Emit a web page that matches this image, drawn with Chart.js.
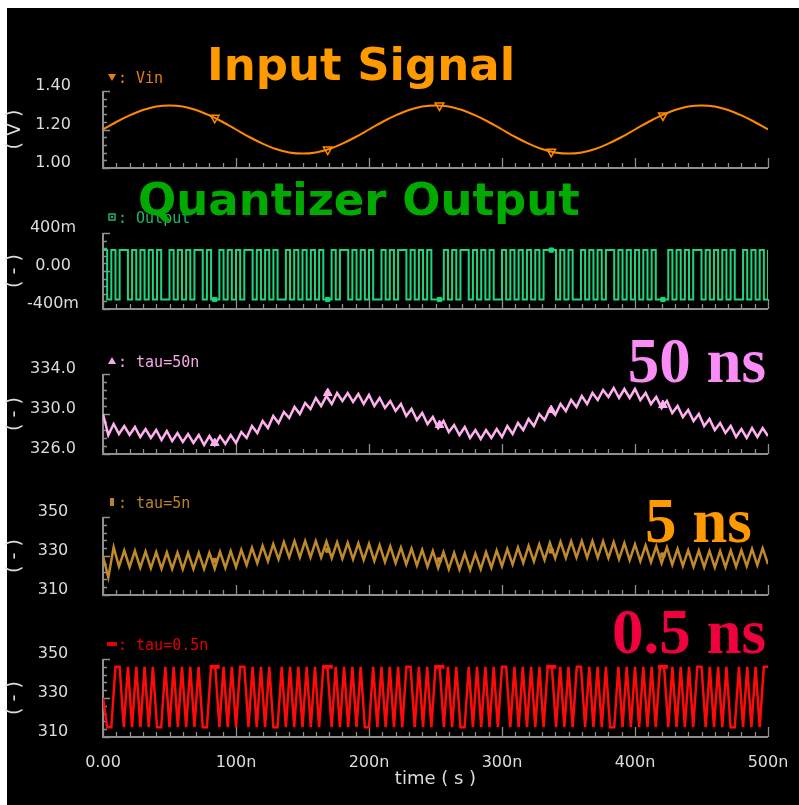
<!DOCTYPE html>
<html><head><meta charset="utf-8">
<script src="https://cdn.jsdelivr.net/npm/chart.js"></script>
<style>
html,body{margin:0;padding:0;background:#fff;width:799px;height:805px;overflow:hidden}
#bg{position:absolute;left:7px;top:8px;width:792px;height:797px;background:#000}
canvas{position:absolute;left:0;top:0}
</style></head><body>
<div id="bg"></div>
<canvas id="c1" width="799" height="805"></canvas>
<canvas id="c2" width="799" height="805"></canvas>
<canvas id="c3" width="799" height="805"></canvas>
<canvas id="c4" width="799" height="805"></canvas>
<canvas id="c5" width="799" height="805"></canvas>
<script>
// ---------------- DATA ----------------
const xTickValues = [0, 100, 200, 300, 400, 500];
const xTickLabels = ['0.00', '100n', '200n', '300n', '400n', '500n'];
const xAxisTitle = 'time ( s )';

// Vin, sampled every 10 ns
const vinStepNs = 10;
const vinValues = [
 1.200,1.239,1.273,1.301,1.319,1.325,1.319,1.301,1.273,1.239,
 1.200,1.161,1.127,1.099,1.081,1.075,1.081,1.099,1.127,1.161,
 1.200,1.239,1.273,1.301,1.319,1.325,1.319,1.301,1.273,1.239,
 1.200,1.161,1.127,1.099,1.081,1.075,1.081,1.099,1.127,1.161,
 1.200,1.239,1.273,1.301,1.319,1.325,1.319,1.301,1.273,1.239,
 1.200];

// quantizer output and tau=0.5n, sampled every 3.125 ns
const fastStepNs = 3.125;
const OH = 0.22, OL = -0.30;
const outputValues = [
 OH,OL,OH,OL,OH,OH,OL,OH,OL,OH,
 OL,OH,OL,OH,OL,OL,OH,OL,OH,OL,
 OH,OL,OH,OH,OL,OH,OL,OL,OH,OL,
 OH,OL,OH,OL,OH,OH,OL,OH,OL,OH,
 OL,OH,OL,OL,OH,OL,OH,OL,OH,OL,
 OH,OL,OH,OL,OL,OH,OL,OH,OH,OL,
 OH,OL,OH,OL,OH,OL,OL,OH,OL,OH,
 OL,OH,OH,OL,OH,OL,OH,OL,OH,OL,
 OL,OL,OH,OL,OH,OL,OH,OH,OL,OH,
 OL,OH,OL,OH,OL,OL,OH,OL,OH,OL,
 OH,OL,OH,OL,OH,OL,OH,OH,OH,OL,
 OH,OL,OH,OL,OL,OH,OL,OH,OL,OH,
 OL,OH,OH,OL,OH,OL,OH,OL,OH,OL,
 OH,OL,OH,OL,OL,OL,OH,OL,OH,OL,
 OH,OL,OH,OH,OL,OH,OL,OH,OL,OH,
 OL,OH,OL,OL,OH,OL,OH,OL,OH,OL,
 OH];

const RH = 346, RL = 315;
const tau05Values = [
 330,RL,RL,RH,RH,RL,RH,RL,RH,RL,
 RH,RL,RH,RL,RL,RH,RL,RH,RL,RH,
 RL,RH,RL,RH,RL,RL,RH,RH,RL,RH,
 RL,RH,RL,RH,RH,RL,RH,RL,RH,RL,
 RH,RL,RL,RH,RL,RH,RL,RH,RL,RH,
 RL,RH,RL,RH,RH,RL,RH,RL,RH,RL,
 RH,RL,RH,RL,RL,RH,RL,RH,RL,RH,
 RL,RH,RL,RH,RH,RL,RH,RL,RH,RL,
 RH,RH,RL,RH,RL,RH,RL,RL,RH,RL,
 RH,RL,RH,RL,RH,RL,RH,RH,RL,RH,
 RL,RH,RL,RH,RL,RH,RL,RH,RH,RL,
 RH,RL,RH,RL,RH,RH,RL,RH,RL,RH,
 RL,RH,RL,RL,RH,RL,RH,RL,RH,RL,
 RH,RL,RH,RL,RH,RH,RL,RH,RL,RH,
 RL,RH,RL,RH,RH,RL,RH,RL,RH,RL,
 RH,RL,RL,RH,RL,RH,RL,RH,RL,RH,
 RH];

// tau=50n and tau=5n, sampled every 4 ns
const slowStepNs = 4;
const tau50Values = [
 330.0,327.9,329.0,328.0,328.8,327.9,328.7,327.7,328.5,327.6,
 328.4,327.4,328.3,327.3,328.1,327.2,328.0,327.1,327.9,326.9,
 327.8,326.9,327.8,327.0,327.9,327.1,328.2,327.6,328.8,328.1,
 329.3,328.6,329.8,329.1,330.2,329.6,330.7,330.0,331.1,330.5,
 331.6,330.8,331.8,331.0,332.1,331.3,332.1,331.2,332.0,331.0,
 331.9,330.8,331.6,330.6,331.3,330.3,331.0,329.8,330.5,329.4,
 330.1,329.0,329.7,328.6,329.3,328.2,328.9,327.9,328.7,327.6,
 328.4,327.5,328.4,327.6,328.5,327.7,328.8,328.0,329.1,328.4,
 329.5,328.8,330.0,329.4,330.5,329.9,331.0,330.3,331.4,330.7,
 331.8,331.0,332.1,331.4,332.4,331.7,332.6,331.6,332.5,331.6,
 332.5,331.4,332.1,331.0,331.7,330.6,331.3,330.1,330.8,329.7,
 330.4,329.3,330.0,328.8,329.5,328.4,329.1,328.1,328.8,327.7,
 328.5,327.6,328.6,327.7,328.6,327.8];

const tau5Values = [
 330,319,334.5,324.6,332.8,324.3,332.6,324.0,332.3,323.7,
 332.0,323.5,331.9,323.4,331.8,323.3,331.7,323.3,331.7,323.3,
 331.7,323.5,332.1,323.9,332.5,324.3,333.2,325.3,334.2,326.3,
 335.2,327.3,336.2,328.3,337.2,329.3,337.7,329.3,337.7,329.3,
 337.7,329.2,337.4,328.9,337.1,328.6,336.8,328.3,336.5,328.0,
 336.2,327.5,335.6,326.9,335.0,326.3,334.4,325.7,333.8,325.1,
 333.2,324.5,332.6,323.9,332.0,323.3,331.6,323.1,331.4,322.9,
 331.2,323.2,332.0,324.0,332.8,324.8,333.6,325.6,334.4,326.4,
 335.2,327.2,336.0,328.0,336.8,328.8,337.3,329.0,337.5,329.2,
 337.7,329.2,337.6,329.1,337.5,329.0,337.1,328.4,336.6,327.9,
 336.0,327.3,335.5,326.8,335.0,326.3,334.4,325.6,333.7,324.9,
 333.0,324.5,332.8,324.3,332.6,324.1,332.6,324.3,332.8,324.5,
 333.0,324.8,333.5,325.3,334.0,325.8];

// trace markers
const markerTimes = [84, 169, 253, 337, 421];
const vinMarkers = [1.261, 1.096, 1.325, 1.085, 1.273];
const outputMarkers = [OL, OL, OL, OH, OL];
const tau50Markers = [327.1, 332.1, 328.9, 330.4, 330.9];
const tau5Markers = [327.7, 333.0, 328.0, 332.6, 330.5];
const tau05Markers = [RH, RH, RH, RH, RH];

// y axes
const vinTicks = [1.0, 1.2, 1.4], vinTickLabels = ['1.00', '1.20', '1.40'];
const outTicks = [-0.4, 0, 0.4], outTickLabels = ['-400m', '0.00', '400m'];
const tau50Ticks = [326, 330, 334], tau50TickLabels = ['326.0', '330.0', '334.0'];
const tau5Ticks = [310, 330, 350], tau5TickLabels = ['310', '330', '350'];
const tau05Ticks = [310, 330, 350], tau05TickLabels = ['310', '330', '350'];

// ---------------- STYLE / HELPERS ----------------
const AXIS_COLOR = '#8f8f8f';
const TEXT_COLOR = '#dcdcdc';
const TICK_FONT = {family: 'DejaVu Sans', size: 16};
const measureCtx = document.createElement('canvas').getContext('2d');
measureCtx.font = '16px "DejaVu Sans"';
function widest(labels) { return Math.max(...labels.map(l => measureCtx.measureText(l).width)); }

function pts(values, step) { return values.map((v, i) => ({x: i * step, y: v})); }
function marks(values) { return values.map((v, i) => ({x: markerTimes[i], y: v})); }

function yAxis(min, max, tickVals, tickLabels, title) {
  const pad = Math.max(2, 103 - 61 - widest(tickLabels) / 2);
  return {
    type: 'linear', min, max, position: 'left',
    afterBuildTicks: s => { s.ticks = tickVals.map(v => ({value: v})); },
    afterFit: s => { s.width = 103; },
    grid: {display: false}, border: {display: false},
    ticks: {color: TEXT_COLOR, font: TICK_FONT, crossAlign: 'center', padding: pad, labelOffset: -5,
      autoSkip: false, callback: (v, i) => tickLabels[i]},
    title: {display: true, text: title, color: TEXT_COLOR, font: {family: 'DejaVu Sans', size: 19},
      padding: {top: 4, bottom: 0}}
  };
}
function xAxis(show) {
  return {
    type: 'linear', min: 0, max: 500, display: show,
    afterBuildTicks: s => { s.ticks = xTickValues.map(v => ({value: v})); },
    afterFit: s => { s.height = show ? 55 : 0; },
    grid: {display: false}, border: {display: false},
    ticks: {color: TEXT_COLOR, font: TICK_FONT, padding: 8, maxRotation: 0, autoSkip: false,
      callback: (v, i) => xTickLabels[i]},
    title: {display: true, text: xAxisTitle, color: TEXT_COLOR, font: {family: 'DejaVu Sans', size: 18},
      padding: {top: 0, bottom: 2}}
  };
}

function drawMarkerShape(ctx, shape, x, y, color) {
  ctx.save();
  ctx.fillStyle = color; ctx.strokeStyle = color; ctx.lineWidth = 1.5;
  ctx.beginPath();
  if (shape === 'tridown') { ctx.moveTo(x - 4, y - 3); ctx.lineTo(x + 4, y - 3); ctx.lineTo(x, y + 4); ctx.closePath(); ctx.fill(); }
  else if (shape === 'triup') { ctx.moveTo(x - 4, y + 3); ctx.lineTo(x + 4, y + 3); ctx.lineTo(x, y - 4); ctx.closePath(); ctx.fill(); }
  else if (shape === 'square') { ctx.strokeRect(x - 3, y - 3, 6, 6); ctx.fillRect(x - 1, y - 1, 2, 2); }
  else if (shape === 'vbar') { ctx.fillRect(x - 2, y - 4, 4, 8); }
  else if (shape === 'hbar') { ctx.fillRect(x - 5, y - 2, 10, 4); }
  ctx.restore();
}

const decor = {
  id: 'decor',
  beforeDatasetsDraw(chart, args, o) {
    const ctx = chart.ctx, a = chart.chartArea, xs = chart.scales.x, ys = chart.scales.y;
    ctx.save();
    ctx.strokeStyle = AXIS_COLOR; ctx.lineWidth = 1.3;
    ctx.beginPath();
    for (let t = 0; t <= 500; t += 10) {
      const px = Math.round(xs.getPixelForValue(t)) + 0.5;
      const len = t % 100 === 0 ? 10 : 5;
      ctx.moveTo(px, a.bottom); ctx.lineTo(px, a.bottom - len);
    }
    const yr = ys.max - ys.min;
    for (let k = 0; k <= 10; k++) {
      const py = Math.round(ys.getPixelForValue(ys.min + k * yr / 10)) + 0.5;
      const len = k % 5 === 0 ? 7 : 4;
      ctx.moveTo(a.left, py); ctx.lineTo(a.left + len, py);
    }
    ctx.stroke();
    ctx.lineWidth = 2;
    ctx.beginPath();
    ctx.moveTo(a.left, a.top); ctx.lineTo(a.left, a.bottom); ctx.lineTo(a.right, a.bottom);
    ctx.stroke();
    ctx.restore();
  },
  afterDraw(chart, args, o) {
    const ctx = chart.ctx;
    ctx.save();
    drawMarkerShape(ctx, o.legendShape, 112, o.legendY - 6, o.legendColor);
    ctx.font = '15px "DejaVu Sans Mono"';
    ctx.fillStyle = o.legendColor; ctx.textAlign = 'left'; ctx.textBaseline = 'alphabetic';
    ctx.fillText(o.legendText, 118, o.legendY);
    const b = o.big;
    ctx.font = b.font; ctx.fillStyle = b.color; ctx.textAlign = b.align;
    ctx.fillText(b.text, b.x, b.y);
    ctx.restore();
  }
};
Chart.register(decor);

function makePanel(id, p) {
  return new Chart(document.getElementById(id), {
    type: 'line',
    data: {datasets: p.datasets},
    options: {
      responsive: false, animation: false, devicePixelRatio: 1,
      layout: {padding: {left: 0, right: 31, top: p.top, bottom: p.bottomPad}},
      plugins: {legend: {display: false}, tooltip: {enabled: false}, decor: p.decor},
      elements: {point: {radius: 0}},
      scales: {x: xAxis(p.showX), y: p.y}
    }
  });
}
function lineDs(data, color, width, extra) {
  return Object.assign({data, borderColor: color, borderWidth: width, pointRadius: 0, fill: false}, extra || {});
}
function markDs(data, color, style, radius, rot, filled, bw) {
  return {data, showLine: false, pointStyle: style, pointRadius: radius, pointRotation: rot || 0,
    pointBorderColor: color, pointBackgroundColor: filled ? color : 'rgba(0,0,0,0)', pointBorderWidth: bw || 1.5,
    borderColor: color};
}

const SERIF = 'bold 63px "Liberation Serif"';
const SANSB = 'bold 45px "DejaVu Sans"';

// Panel 1: Vin
makePanel('c1', {
  top: 91, bottomPad: 805 - 168, showX: false,
  y: yAxis(1.0, 1.4, vinTicks, vinTickLabels, '( V )'),
  datasets: [
    lineDs(pts(vinValues, vinStepNs), '#ff8a00', 2, {cubicInterpolationMode: 'monotone'}),
    markDs(marks(vinMarkers), '#ff8a00', 'triangle', 5, 180, false, 1.5)
  ],
  decor: {legendShape: 'tridown', legendText: ': Vin', legendY: 83, legendColor: '#e87d10',
    big: {text: 'Input Signal', font: SANSB, color: '#ff9900', align: 'left', x: 207, y: 80}}
});

// Panel 2: Output
makePanel('c2', {
  top: 233, bottomPad: 805 - 309, showX: false,
  y: yAxis(-0.4, 0.4, outTicks, outTickLabels, '( - )'),
  datasets: [
    lineDs(pts(outputValues, fastStepNs), '#1fd47c', 2, {stepped: 'before'}),
    markDs(marks(outputMarkers), '#1fd47c', 'rect', 3, 0, true, 1)
  ],
  decor: {legendShape: 'square', legendText: ': Output', legendY: 223, legendColor: '#22b56c',
    big: {text: 'Quantizer Output', font: SANSB, color: '#00aa00', align: 'left', x: 138, y: 215}}
});

// Panel 3: tau=50n
makePanel('c3', {
  top: 374, bottomPad: 805 - 454, showX: false,
  y: yAxis(326, 334, tau50Ticks, tau50TickLabels, '( - )'),
  datasets: [
    lineDs(pts(tau50Values, slowStepNs), '#ffb0ee', 2.5),
    markDs(marks(tau50Markers), '#ffb0ee', 'triangle', 5, 0, true, 1)
  ],
  decor: {legendShape: 'triup', legendText: ': tau=50n', legendY: 367, legendColor: '#f4a8e6',
    big: {text: '50 ns', font: SERIF, color: '#f98cf5', align: 'right', x: 766, y: 382}}
});

// Panel 4: tau=5n
makePanel('c4', {
  top: 517, bottomPad: 805 - 595, showX: false,
  y: yAxis(310, 350, tau5Ticks, tau5TickLabels, '( - )'),
  datasets: [
    lineDs(pts(tau5Values, slowStepNs), '#c08a2c', 2.5),
    markDs(marks(tau5Markers), '#c08a2c', 'rect', 3, 0, true, 1)
  ],
  decor: {legendShape: 'vbar', legendText: ': tau=5n', legendY: 508, legendColor: '#b9832c',
    big: {text: '5 ns', font: SERIF, color: '#ff9900', align: 'left', x: 645, y: 542}}
});

// Panel 5: tau=0.5n
makePanel('c5', {
  top: 659, bottomPad: 805 - 737 - 55, showX: true,
  y: yAxis(310, 350, tau05Ticks, tau05TickLabels, '( - )'),
  datasets: [
    lineDs(pts(tau05Values, fastStepNs), '#ff0a0a', 2.5),
    markDs(marks(tau05Markers), '#ff0a0a', 'line', 5, 0, true, 4)
  ],
  decor: {legendShape: 'hbar', legendText: ': tau=0.5n', legendY: 650, legendColor: '#e00000',
    big: {text: '0.5 ns', font: SERIF, color: '#f0003c', align: 'left', x: 612, y: 653}}
});
</script>
</body></html>
